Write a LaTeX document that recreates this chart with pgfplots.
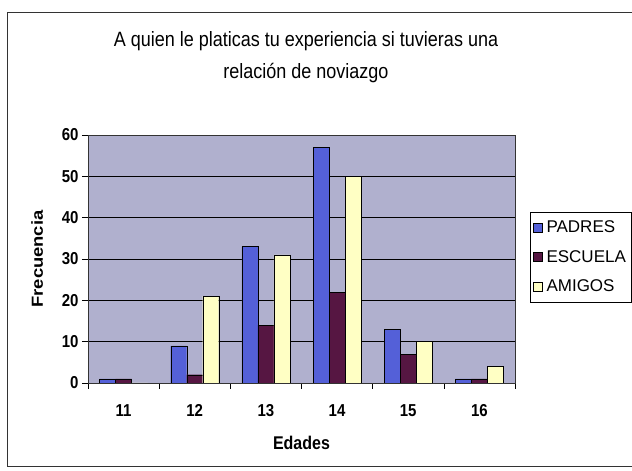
\documentclass[border=0pt]{standalone}
\usepackage{fontspec}
\setmainfont{Liberation Sans}
\usepackage{pgfplots}
\pgfplotsset{compat=1.18}
\definecolor{plotBg}{RGB}{176,176,206}
\definecolor{padresBlue}{RGB}{84,96,216}
\definecolor{escuelaRed}{RGB}{86,22,66}
\definecolor{amigosYel}{RGB}{255,255,196}

\begin{document}
\begin{tikzpicture}
  \path[use as bounding box] (0pt,0pt) rectangle (632pt,471pt);
  \draw[black!80, line width=1pt] (7pt,4pt) rectangle (640pt,458pt);
  \node[font=\fontsize{18}{28}\selectfont, align=center, yscale=1.15] at (306pt,414pt)
    {A quien le platicas tu experiencia si tuvieras una\\relación de noviazgo};
  \begin{axis}[
      at={(88pt,88pt)}, anchor=south west,
      scale only axis, width=427pt, height=248pt,
      ybar=0pt, bar width=16pt,
      xmin=-0.5, xmax=5.5, ymin=0, ymax=60,
      xtick={0,...,5}, xticklabels={11,12,13,14,15,16},
      minor xtick={-0.5,0.5,...,5.5},
      major x tick style={draw=none},
      minor tick length=6pt,
      ytick={0,10,...,60}, major tick length=6pt,
      tick align=outside, tick pos=left,
      tick style={black, thin},
      axis background/.style={fill=plotBg},
      axis line style={black!80, thin},
      ymajorgrids, grid style={black, thin},
      tick label style={font=\fontsize{15}{18}\selectfont\bfseries, yscale=1.15},
      xticklabel style={text height=11pt, text depth=0pt, yshift=-9pt},
      /pgf/number format/assume math mode=true,
      xlabel={Edades}, ylabel={Frecuencia},
      every axis x label/.style={at={(axis description cs:0.5,-0.242)}, anchor=center, yscale=1.15, font=\fontsize{16}{18}\selectfont\bfseries},
      every axis y label/.style={at={(axis description cs:-0.119,0.5)}, anchor=center, rotate=90, xscale=1.15, font=\fontsize{16}{18}\selectfont\bfseries},
      legend style={at={(axis description cs:1.035,0.69)}, anchor=north west,
        draw=black, thin, font=\fontsize{17}{20}\selectfont,
        row sep=12pt, inner xsep=3pt, inner ysep=7pt, cells={anchor=west}},
      legend image code/.code={\draw[#1, draw=black, thin] (4pt,-4.5pt) rectangle (13pt,4.5pt);},
    ]
    \addplot[fill=padresBlue, draw=black, thin] coordinates {(0,1) (1,9) (2,33) (3,57) (4,13) (5,1)};
    \addplot[fill=escuelaRed, draw=black, thin] coordinates {(0,1) (1,2) (2,14) (3,22) (4,7) (5,1)};
    \addplot[fill=amigosYel, draw=black, thin] coordinates {(0,0) (1,21) (2,31) (3,50) (4,10) (5,4)};
    \legend{\hspace{2pt}PADRES, \hspace{2pt}ESCUELA, \hspace{2pt}AMIGOS}
  \end{axis}
\end{tikzpicture}
\end{document}
